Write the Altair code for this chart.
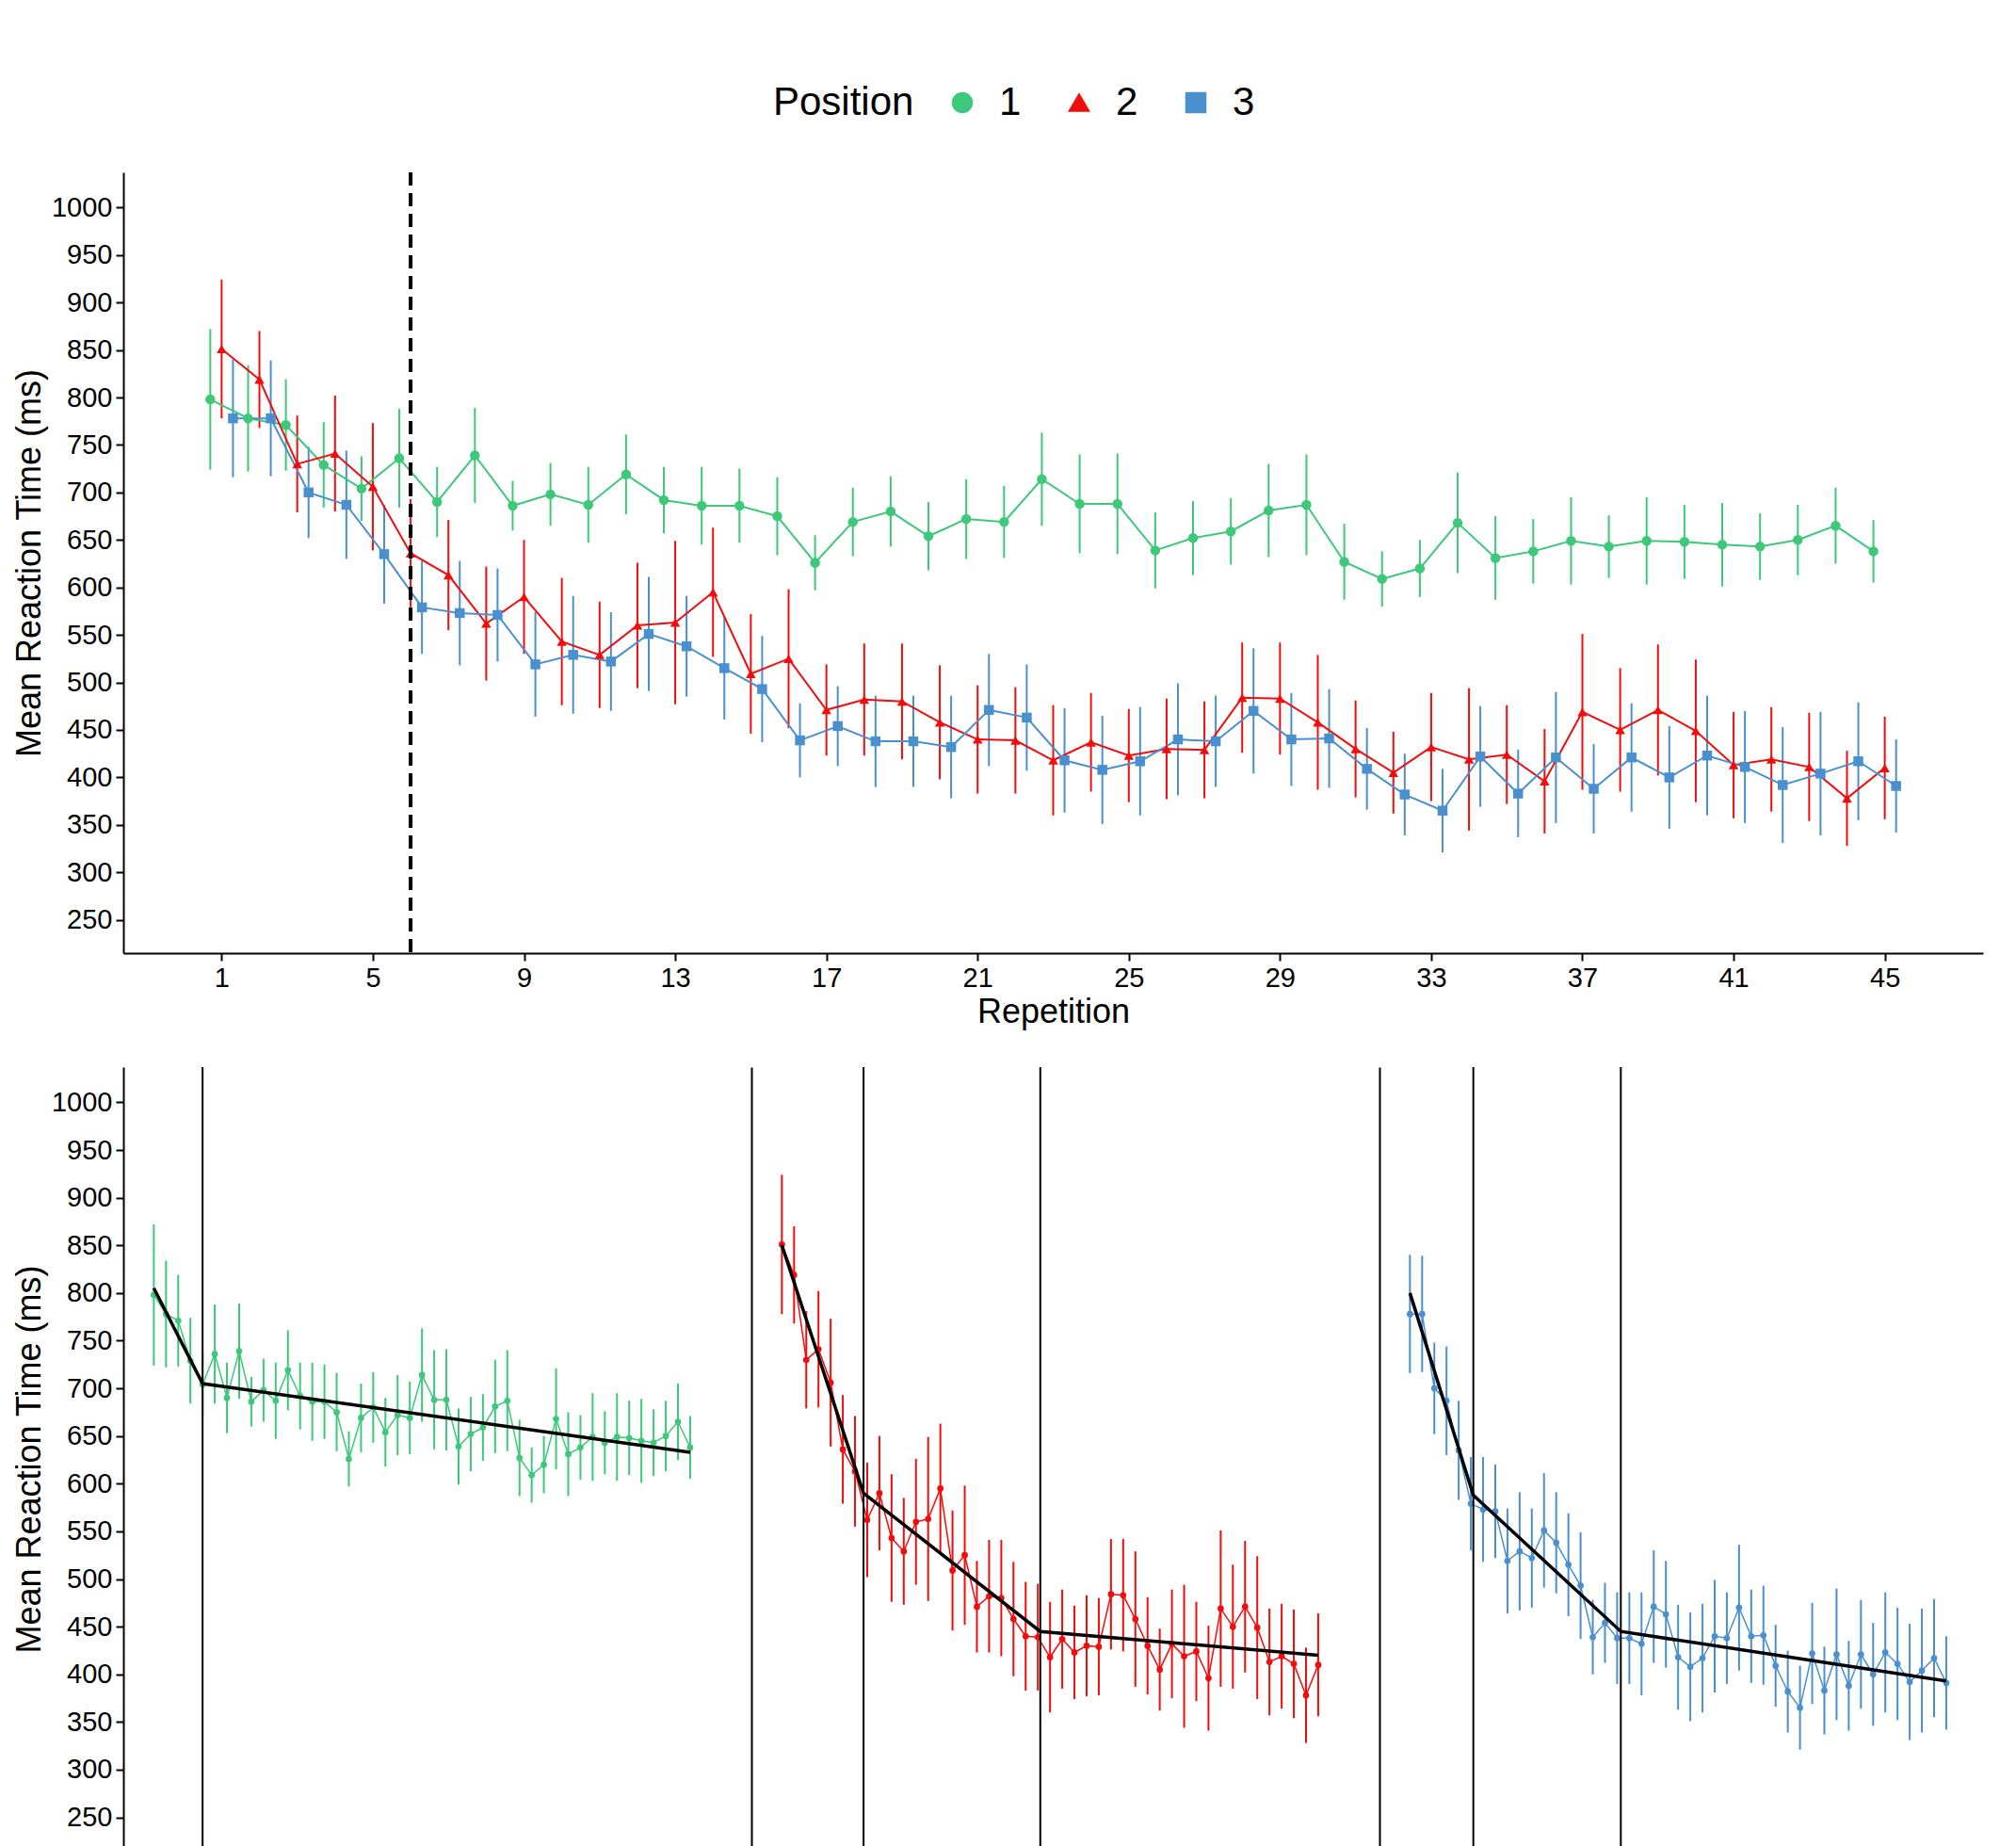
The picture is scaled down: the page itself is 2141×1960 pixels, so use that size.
import altair as alt
import pandas as pd

reps = list(range(1, 46))
pos1 = [798,778,771,729,704,736,690,739,686,698,687,719,692,686,686,675,626,669,680,654,672,669,714,
        688,688,639,652,659,681,687,627,609,620,668,631,638,649,643,649,648,645,643,650,665,638]
pos1_err = [74,56,48,45,34,52,37,50,26,33,40,42,35,41,39,41,29,36,37,36,42,38,49,
            52,53,40,39,35,49,53,40,29,30,53,44,34,46,33,46,39,44,35,37,40,33]
pos2 = [851,819,730,741,706,636,613,562,590,543,529,560,563,595,509,525,471,482,480,458,440,439,418,
        437,423,430,429,484,483,458,430,405,432,419,424,396,469,450,471,449,413,419,411,378,410]
pos2_err = [73,51,51,61,67,57,58,60,60,67,56,66,86,68,63,73,48,59,61,60,57,56,58,
            52,49,53,51,58,59,71,51,43,57,75,52,55,82,65,69,75,56,55,57,50,54]
pos3 = [778,778,700,687,635,579,573,571,519,529,522,551,538,515,493,439,454,438,438,432,471,463,418,
        408,417,440,438,470,440,441,409,382,365,422,383,421,388,421,400,423,411,392,404,417,391]
pos3_err = [62,61,48,57,52,49,55,49,55,62,52,60,53,54,56,39,42,48,48,54,59,56,55,
            57,57,59,48,66,49,52,43,43,44,53,46,69,47,57,54,63,59,61,65,62,49]

positions = ["1", "2", "3"]
colors = ["#3DC87A", "#F20D0D", "#4A90CF"]
shapes = ["circle", "triangle-up", "square"]
offsets = [-0.3, 0.0, 0.3]

fit_x = {"1": [1, 5, 45], "2": [1, 7.7, 22.2, 45], "3": [1, 6.2, 18.3, 45]}
fit_y = {"1": [805, 705, 633], "2": [850, 590, 445, 420], "3": [800, 588, 445, 393]}
break_x = {"1": [5], "2": [7.7, 22.2], "3": [6.2, 18.3]}

rows = []
for p, m, e, off in zip(positions, [pos1, pos2, pos3], [pos1_err, pos2_err, pos3_err], offsets):
    for r, v, er in zip(reps, m, e):
        rows.append({"Repetition": r, "xd": r + off, "rt": v, "lo": v - er, "hi": v + er, "Position": p})
df = pd.DataFrame(rows)

FONT = "Liberation Sans"
ydom = [215, 1037]
yticks = list(range(250, 1001, 50))
xticks = list(range(1, 46, 4))

color = alt.Color("Position:N", scale=alt.Scale(domain=positions, range=colors),
                  legend=alt.Legend(orient="none", legendX=690, legendY=-95, direction="horizontal",
                                    title="Position", titleOrient="left", titleFontSize=42,
                                    labelFontSize=42, symbolSize=420, titleFontWeight="normal",
                                    columnPadding=40, titlePadding=30, labelOffset=18,
                                    titleFont=FONT, labelFont=FONT, symbolStrokeWidth=2))
shape = alt.Shape("Position:N", scale=alt.Scale(domain=positions, range=shapes), legend=None)

yax = alt.Axis(values=yticks, title="Mean Reaction Time (ms)", grid=False, format="d")
xax = alt.Axis(values=xticks, title="Repetition", grid=False)

base = alt.Chart(df)
X = alt.X("xd:Q", scale=alt.Scale(domain=[-1.6, 47.6], nice=False, zero=False), axis=xax)
ys0 = alt.Scale(domain=ydom, nice=False, zero=False)
Y = alt.Y("rt:Q", scale=ys0, axis=yax)

err = base.mark_rule(strokeWidth=2).encode(x=X, y=alt.Y("lo:Q", scale=ys0, axis=yax), y2="hi:Q", color=color)
line = base.mark_line(strokeWidth=2).encode(x=X, y=Y, color=color)
pts = base.mark_point(filled=True, size=110, opacity=1).encode(x=X, y=Y, color=color, shape=shape)
dash = alt.Chart(pd.DataFrame({"v": [6.0]})).mark_rule(strokeDash=[14, 8], strokeWidth=4, color="black").encode(x="v:Q")

top = alt.layer(err, line, pts, dash).properties(width=1975, height=829)

xdom = [-1.5, 47.4]
panels = []
for i, (p, c) in enumerate(zip(positions, colors)):
    d = df[df.Position == p]
    if i == 0:
        ya = alt.Axis(values=yticks, title="Mean Reaction Time (ms)", grid=False, format="d")
    else:
        ya = alt.Axis(values=yticks, title=None, labels=False, ticks=False, grid=False)
    xsc = alt.Scale(domain=xdom, nice=False, zero=False)
    xs = alt.X("Repetition:Q", scale=xsc,
               axis=alt.Axis(values=xticks, title="Repetition", grid=False, labelOverlap=False))
    ys = alt.Scale(domain=ydom, nice=False, zero=False)
    b = alt.Chart(d)
    e = b.mark_rule(strokeWidth=2, color=c).encode(x=xs, y=alt.Y("lo:Q", scale=ys, axis=ya), y2="hi:Q")
    l = b.mark_line(strokeWidth=1.5, color=c).encode(x=xs, y=alt.Y("rt:Q", scale=ys, axis=ya))
    pt = b.mark_point(filled=True, size=45, color=c, opacity=1).encode(x=xs, y=alt.Y("rt:Q", scale=ys, axis=ya))
    vd = pd.DataFrame({"v": break_x[p]})
    v = alt.Chart(vd).mark_rule(strokeWidth=2, color="black").encode(x=alt.X("v:Q", scale=xsc))
    fd = pd.DataFrame({"fx": fit_x[p], "fy": fit_y[p]})
    f = alt.Chart(fd).mark_line(strokeWidth=3.5, color="black").encode(
        x=alt.X("fx:Q", scale=xsc), y=alt.Y("fy:Q", scale=ys))
    panels.append(alt.layer(e, l, pt, v, f).properties(width=633, height=832))

bottom = alt.hconcat(*panels, spacing=34)

chart = alt.vconcat(top, bottom, spacing=40).properties(
    padding={"top": 80, "left": 5, "right": 5, "bottom": 5}
).configure_view(stroke=None).configure_axis(
    domainColor="black", domainWidth=2, tickColor="black", tickWidth=2, tickSize=8,
    labelColor="black", labelFontSize=29, labelFont=FONT, titleFont=FONT,
    titleFontSize=36, titleFontWeight="normal", titleColor="black", labelPadding=4
).configure_legend(padding=0)

chart.save("out.html", embed_options={"renderer": "svg", "actions": False})
